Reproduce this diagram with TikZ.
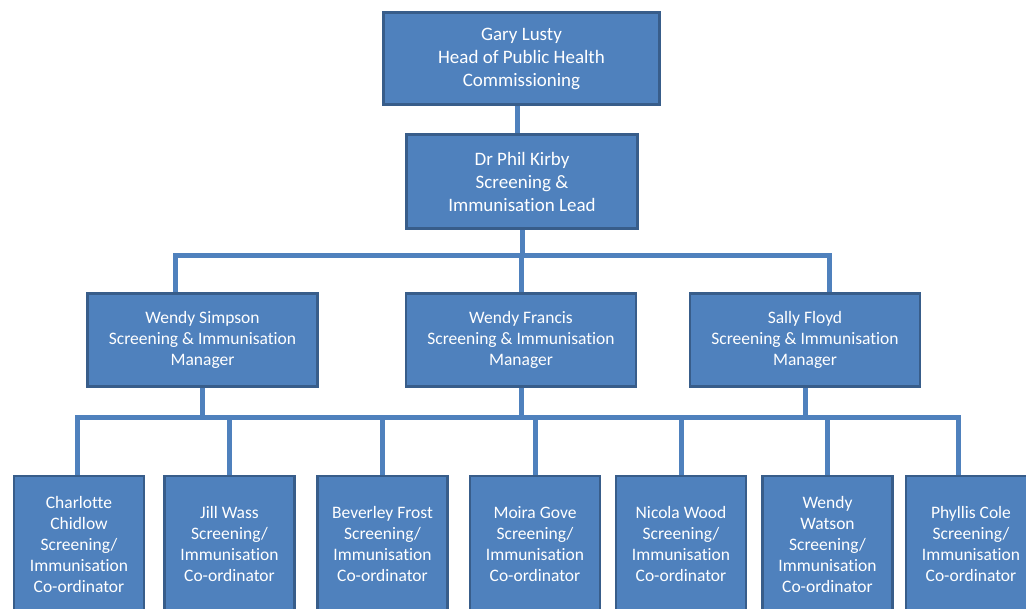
\documentclass[tikz,border=0pt]{standalone}
\usepackage{fontspec}
\setmainfont{Carlito}[Ligatures=NoCommon]
\usetikzlibrary{positioning, calc}

\begin{document}
\begin{tikzpicture}[
    x=1pt, y=-1pt,
    box/.style={rectangle, draw=boxborder, line width=2.5pt, fill=boxfill, text=white, align=center, inner sep=2pt, font=\fontsize{17.5}{21}\selectfont},
    headbox/.style={box, font=\fontsize{19}{23}\selectfont},
    mgrbox/.style={box, minimum width=230pt, minimum height=93pt},
    coordbox/.style={box, minimum width=130pt, minimum height=136pt},
    conn/.style={draw=linkblue, line width=5pt, line join=miter}
]

% Define colors
\definecolor{boxfill}{RGB}{79,129,189}
\definecolor{boxborder}{RGB}{56,93,138}
\definecolor{linkblue}{RGB}{79,129,189}

\useasboundingbox (0,0) rectangle (1026,609);
\clip (0,0) rectangle (1026,609);

% --- Top of the chart ---
\node[headbox, minimum width=276pt, minimum height=92pt] (gary) at (521.5,58.5) {Gary Lusty\\Head of Public Health\\Commissioning};
\node[headbox, minimum width=231pt, minimum height=94pt] (phil) at (522,181.5) {Dr Phil Kirby\\Screening \&\\Immunisation Lead};

% --- Managers ---
\node[mgrbox] (simpson) at (202.5,340) {Wendy Simpson\\Screening \& Immunisation\\Manager};
\node[mgrbox] (francis) at (521,340) {Wendy Francis\\Screening \& Immunisation\\Manager};
\node[mgrbox] (floyd) at (805,340) {Sally Floyd\\Screening \& Immunisation\\Manager};

% --- Co-ordinators ---
\foreach \name/\x/\who in {chidlow/79/{Charlotte\\Chidlow}, wass/229.5/{Jill Wass}, frost/382.5/{Beverley Frost},
    gove/535/{Moira Gove}, wood/681/{Nicola Wood}, watson/827.5/{Wendy\\Watson}, cole/971/{Phyllis Cole}} {
    \node[coordbox] (\name) at (\x,544) {\who\\Screening/\\Immunisation\\Co-ordinator};
}

% Bus lines
\coordinate (upbus) at (0,256);
\coordinate (lowbus) at (0,418);

% Head to lead to managers
\draw[conn] ([xshift=-4pt]gary.south) -- ([xshift=-4pt]gary.south |- phil.north);
\draw[conn] (phil.south) -- (phil.south |- upbus);
\draw[conn] ([xshift=-27.5pt]simpson.north) |- ([xshift=24pt]floyd.north |- upbus) -- ([xshift=24pt]floyd.north);
\draw[conn] (francis.north) -- (francis.north |- upbus);

% Managers to co-ordinators
\foreach \m in {simpson, francis, floyd} {
    \draw[conn] (\m.south) -- (\m.south |- lowbus);
}
\draw[conn] ([xshift=-2pt]chidlow.north) |- ([xshift=-13pt]cole.north |- lowbus) -- ([xshift=-13pt]cole.north);
\foreach \name in {wass, frost, gove, wood, watson} {
    \draw[conn] (\name.north) -- (\name.north |- lowbus);
}

\end{tikzpicture}
\end{document}
